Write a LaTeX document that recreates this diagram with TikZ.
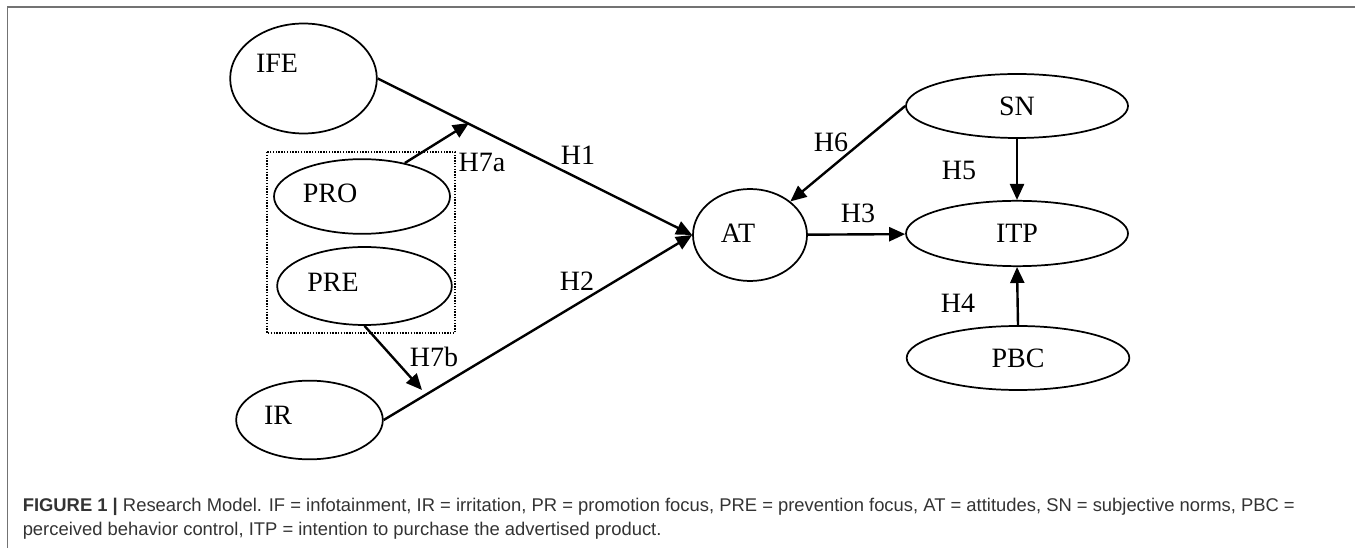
\documentclass[tikz,border=0pt]{standalone}
\usepackage{fontspec}
\setmainfont{Liberation Serif}
\setsansfont{Liberation Sans}
\usetikzlibrary{shapes.geometric,arrows.meta}

\begin{document}
\begin{tikzpicture}
[ x=0.75pt, y=-0.75pt, font=\fontsize{21}{23}\selectfont
, factor/.style={ellipse, draw, line width=1.3pt, inner sep=0pt}
, effect/.style={line width=1.8pt, -{Triangle[length=12pt, width=10.5pt]}}
, hyp/.style={inner sep=0pt}
, moderator/.style={draw, densely dotted, line width=1.1pt}
, border/.style={draw=black!55, line width=1.3pt}
, captext/.style={anchor=base west, inner sep=0pt, text=black!80, font=\sffamily\fontsize{13.8}{15}\selectfont}
]
\useasboundingbox (0,0) rectangle (1355,548);
\draw [border] (7.5,548) -- (7.5,7) -- (1355,7);

% Left side:
\node (IFE) [factor, minimum width=110pt, minimum height=82.5pt] at (303.5,78.5) {};
\node (IFEtext) [hyp] at (277,63) {IFE};
\node (PRO) [factor, minimum width=132pt, minimum height=56pt] at (362,196.5) {};
\node (PROtext) [hyp] at (330,193) {PRO};
\node (PRE) [factor, minimum width=131pt, minimum height=58.5pt] at (364.5,286) {};
\node (PREtext) [hyp] at (333,282) {PRE};
\node (IR) [factor, minimum width=110pt, minimum height=59pt] at (309.5,420) {};
\node (IRtext) [hyp] at (278,415) {IR};
\draw [moderator] (267,152) rectangle (455,333);

% Right side:
\node (AT) [factor, minimum width=85.5pt, minimum height=69pt] at (750,235) {};
\node (ATtext) [hyp] at (738,233) {AT};
\node (SN) [factor, minimum width=166.5pt, minimum height=48pt] at (1017,106) {SN};
\node (ITP) [factor, minimum width=166.5pt, minimum height=49pt] at (1017,233.5) {ITP};
\node (PBC) [factor, minimum width=167pt, minimum height=48pt] at (1018,358) {PBC};

\coordinate (h7atip) at (469,123);
\coordinate (h7btip) at (422,390);

\draw [effect] (IFE.east) -- (AT.west);
\draw [effect] (IR.east) -- (AT.west);
\draw [effect] (AT) -- (ITP);
\draw [effect] (PBC.north) -- (ITP.south);
\draw [effect] (SN) -- (ITP);
\draw [effect] (SN.west) -- (AT);
\draw [effect] (PRO.38) -- (h7atip);
\draw [effect] (PRE.south) -- (h7btip);

\node (h1) [hyp] at (578,155) {H1};
\node (h2) [hyp] at (577,281) {H2};
\node (h3) [hyp] at (858,213) {H3};
\node (h4) [hyp] at (958,303) {H4};
\node (h5) [hyp] at (959,170) {H5};
\node (h6) [hyp] at (831,142) {H6};
\node (h7a) [hyp] at (482,162) {H7a};
\node (h7b) [hyp] at (434,357) {H7b};

% Caption:
\node (cap1) [captext] at (22.5,511) {\textbf{FIGURE 1 |} Research Model. IF = infotainment, IR = irritation, PR = promotion focus, PRE = prevention focus, AT = attitudes, SN = subjective norms, PBC =};
\node (cap2) [captext] at (22.5,535) {perceived behavior control, ITP = intention to purchase the advertised product.};
\end{tikzpicture}
\end{document}
